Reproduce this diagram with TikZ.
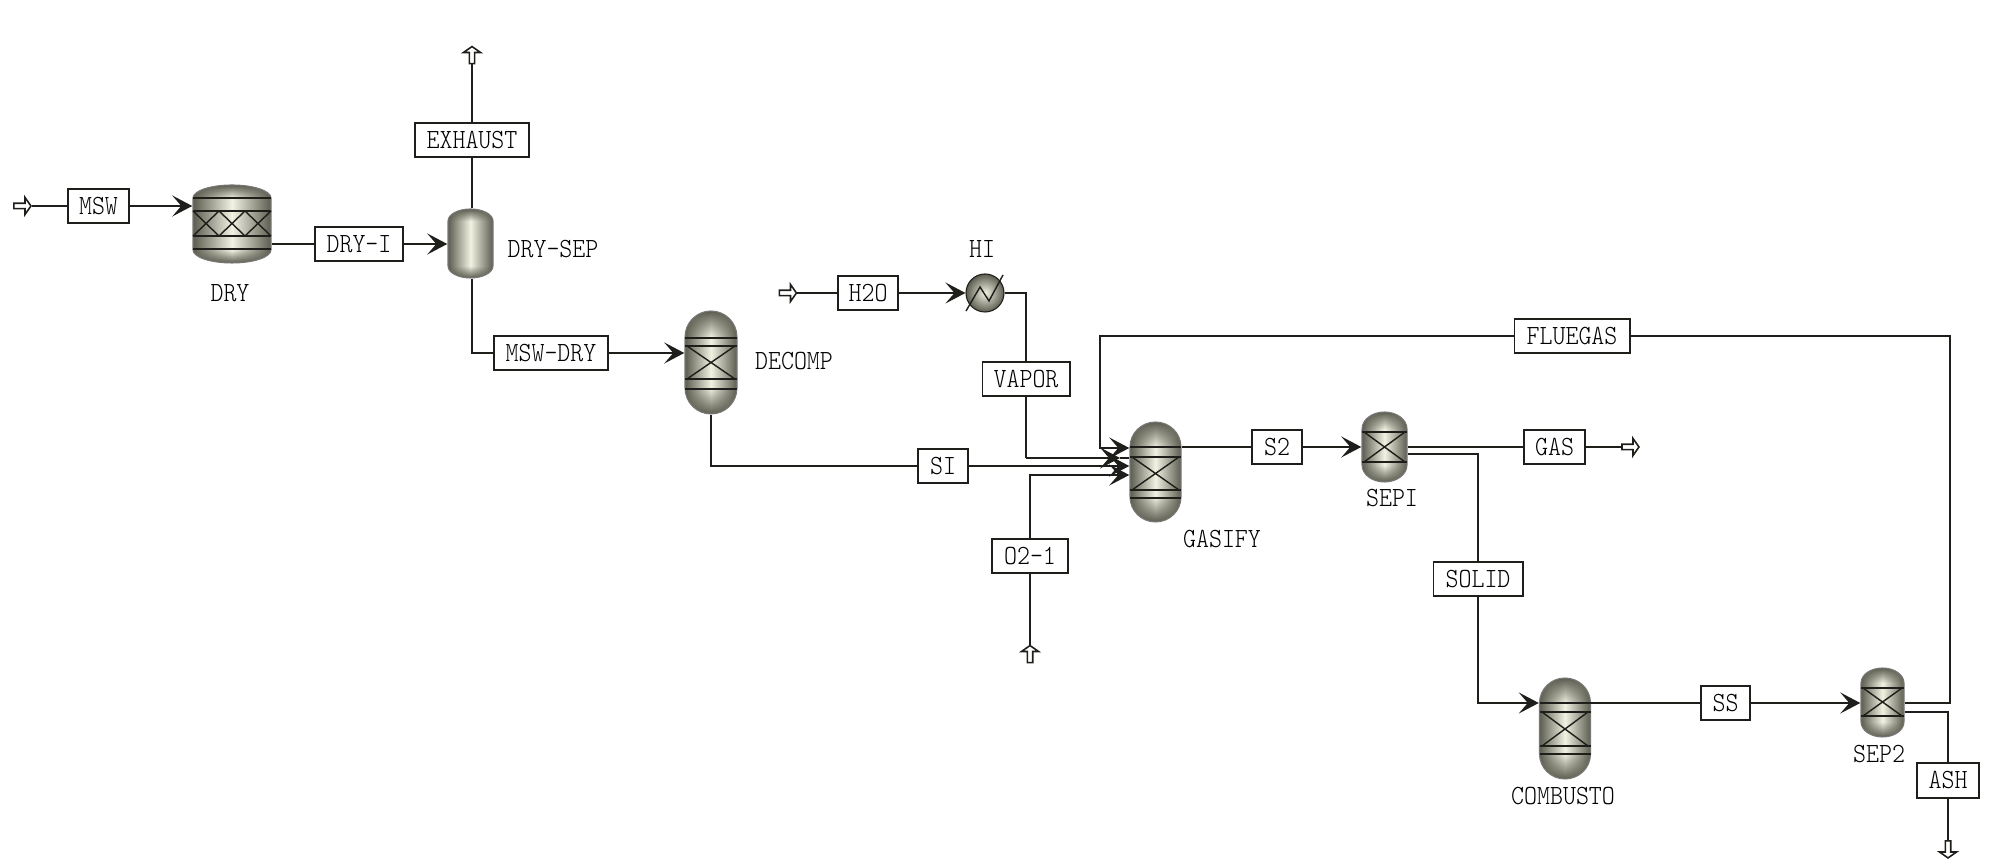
\documentclass[tikz,border=0pt]{standalone}
\usepackage{fontspec}
\usepackage{xcolor}
\usepackage{tikz}
\usetikzlibrary{arrows.meta,shapes.arrows,fadings}
\newfontfamily\tagfont[FakeStretch=0.89]{Latin Modern Mono Light}
\definecolor{vdark}{HTML}{5C5D50}
\definecolor{vlight}{HTML}{F1F2E2}
\definecolor{vline}{HTML}{1E1E1A}
\newcommand{\vessel}[6]{% name, x, y, half width, half height, cap
  \path[left color=vdark,right color=vdark,middle color=vlight]
    (#2-#4,#3-#5+#6) arc[x radius=#4*0.01cm,y radius=#6*0.01cm,start angle=180,end angle=0]
    -- (#2+#4,#3+#5-#6) arc[x radius=#4*0.01cm,y radius=#6*0.01cm,start angle=0,end angle=-180] -- cycle;
  \fill[vdark,path fading=south]
    (#2-#4,#3-#5+#6) arc[x radius=#4*0.01cm,y radius=#6*0.01cm,start angle=180,end angle=0] -- cycle;
  \fill[vdark,path fading=north]
    (#2+#4,#3+#5-#6) arc[x radius=#4*0.01cm,y radius=#6*0.01cm,start angle=0,end angle=-180] -- cycle;
  \draw[shell]
    (#2-#4,#3-#5+#6) arc[x radius=#4*0.01cm,y radius=#6*0.01cm,start angle=180,end angle=0]
    -- (#2+#4,#3+#5-#6) arc[x radius=#4*0.01cm,y radius=#6*0.01cm,start angle=0,end angle=-180] -- cycle;
  \node[inner sep=0pt,minimum width=#4*0.02cm,minimum height=#5*0.02cm] (#1) at (#2,#3) {};
}

\begin{document}
\begin{tikzpicture}[x=0.01cm,y=-0.01cm,
    shell/.style={draw=vline!60,line width=0.3pt},
    tray/.style={draw=vline,line width=0.4pt},
    flow/.style={draw=vline,line width=0.55pt},
    inflow/.style={flow,-{Stealth[length=0.2cm,width=0.21cm,inset=0.09cm]}},
    stream/.style={draw=vline,line width=0.55pt,fill=white,inner sep=0pt,minimum height=0.345cm,
      text=black,font=\tagfont\fontsize{7.9}{9}\selectfont},
    unit/.style={inner sep=0pt,text=black,font=\tagfont\fontsize{7.9}{9}\selectfont},
    port/.style={single arrow,draw=vline,line width=0.45pt,fill=white,inner sep=0pt,
      minimum width=0.17cm,minimum height=0.17cm,single arrow head extend=0.017cm,
      single arrow tip angle=110}]
  \useasboundingbox (0,0) rectangle (2000,868);

  % vessels
  \vessel{dry}{232}{224}{39}{39}{13}
  \vessel{drysep}{470.5}{243.5}{22.5}{34.5}{12}
  \vessel{decomp}{711}{362.5}{26}{51.5}{26}
  \vessel{gasify}{1155.5}{472}{25.5}{50}{25}
  \vessel{sepa}{1384.5}{447}{22.5}{35}{17}
  \vessel{combusto}{1565}{728.5}{25.5}{50.5}{25}
  \vessel{sepb}{1882.5}{702.5}{21.5}{34.5}{15}

  % trays and packing
  \foreach \y in {198,211,236,249} \draw[tray] (193,\y) -- (271,\y);
  \foreach \x in {206,232,258} \draw[tray] (\x-13,211) -- (\x+13,236) (\x-13,236) -- (\x+13,211);
  \foreach \y in {338,346,379,389} \draw[tray] (685,\y) -- (737,\y);
  \draw[tray] (687,346) -- (735,379) (687,379) -- (735,346);
  \foreach \y in {447,457,490,498} \draw[tray] (1130,\y) -- (1181,\y);
  \draw[tray] (1132,457) -- (1179,490) (1132,490) -- (1179,457);
  \foreach \y in {432,462} \draw[tray] (1362,\y) -- (1407,\y);
  \draw[tray] (1364,432) -- (1405,462) (1364,462) -- (1405,432);
  \foreach \y in {703,712,746,754} \draw[tray] (1539.5,\y) -- (1590.5,\y);
  \draw[tray] (1542,712) -- (1588,746) (1542,746) -- (1588,712);
  \foreach \y in {688,716} \draw[tray] (1861,\y) -- (1904,\y);
  \draw[tray] (1863,688) -- (1902,716) (1863,716) -- (1902,688);

  % heater
  \node[circle,draw=vline,line width=0.3pt,inner sep=0pt,minimum size=0.38cm,inner color=vlight,outer color=vdark] (heater) at (985,293) {};
  \draw[tray] (966,311) -- (980,287) -- (989,301) -- (1003,275);

  % stream boxes
  \node[stream,minimum width=0.61cm] (msw) at (98.5,206) {MSW};
  \node[stream,minimum width=0.88cm] (dryone) at (359,244) {DRY-I};
  \node[stream,minimum width=1.14cm] (exhaust) at (472,140) {EXHAUST};
  \node[stream,minimum width=1.14cm] (mswdry) at (551,353) {MSW-DRY};
  \node[stream,minimum width=0.60cm] (water) at (868,293) {H2O};
  \node[stream,minimum width=0.87cm] (vapor) at (1026,379) {VAPOR};
  \node[stream,minimum width=0.50cm] (sone) at (943,466) {SI};
  \node[stream,minimum width=0.76cm] (oxygen) at (1030,556) {O2-1};
  \node[stream,minimum width=1.15cm] (fluegas) at (1572,336) {FLUEGAS};
  \node[stream,minimum width=0.50cm] (stwo) at (1277,447) {S2};
  \node[stream,minimum width=0.61cm] (gas) at (1554.5,447) {GAS};
  \node[stream,minimum width=0.89cm] (solid) at (1478,579) {SOLID};
  \node[stream,minimum width=0.49cm] (ss) at (1725.5,703) {SS};
  \node[stream,minimum width=0.62cm] (ash) at (1948,780.5) {ASH};

  % unit names
  \node[unit] (ldry) at (230,293) {DRY};
  \node[unit] (ldrysep) at (553,249) {DRY-SEP};
  \node[unit] (ldecomp) at (794,361) {DECOMP};
  \node[unit] (lheater) at (982,249) {HI};
  \node[unit] (lgasify) at (1222,539) {GASIFY};
  \node[unit] (lsepa) at (1392,498) {SEPI};
  \node[unit] (lcombusto) at (1563,796) {COMBUSTO};
  \node[unit] (lsepb) at (1879,754) {SEP2};

  % feed and product arrows
  \node[port] (pmsw) at (21.5,206) {};
  \node[port] (pwater) at (787,293) {};
  \node[port,shape border rotate=90] (poxygen) at (1030,655) {};
  \node[port,shape border rotate=90] (pexhaust) at (472,56) {};
  \node[port] (pgas) at (1629.5,447) {};
  \node[port,shape border rotate=270] (pash) at (1948,848.5) {};

  % routing points
  \coordinate (fluer) at (1950,336);
  \coordinate (fluel) at (1100,336);
  \coordinate (vapbend) at (1026,458);
  \coordinate (oxbend) at (1030,475);
  \coordinate (solbend) at (1478,454);
  \coordinate (ashbend) at (1948,712);

  % connectors
  \draw[flow] (pmsw) -- (msw);
  \draw[inflow] (msw) -- (msw -| dry.west);
  \draw[flow] (dry.east |- dryone) -- (dryone);
  \draw[inflow] (dryone) -- (dryone -| drysep.west);
  \draw[flow] (exhaust |- drysep.north) -- (exhaust);
  \draw[flow] (exhaust) -- (pexhaust);
  \draw[flow] (exhaust |- drysep.south) |- (mswdry);
  \draw[inflow] (mswdry) -- (mswdry -| decomp.west);
  \draw[flow] (decomp.south) |- (sone);
  \draw[inflow] (sone) -- (sone -| gasify.west);
  \draw[flow] (pwater) -- (water);
  \draw[inflow] (water) -- (heater);
  \draw[flow] (heater) -| (vapor);
  \draw[flow] (vapor) -- (vapbend);
  \draw[inflow] (vapbend) -- (1120,458);
  \draw[flow] (1120,458) -- (vapbend -| gasify.west);
  \draw[flow] (poxygen) -- (oxygen);
  \draw[inflow] (oxygen) -- (oxbend) -- (oxbend -| gasify.west);
  \draw[flow] (gasify.east |- stwo) -- (stwo);
  \draw[inflow] (stwo) -- (stwo -| sepa.west);
  \draw[flow] (sepa.east |- gas) -- (gas);
  \draw[flow] (gas) -- (pgas);
  \draw[flow] (sepa.east |- solbend) -- (solbend) -- (solid);
  \draw[inflow] (solid) |- (combusto.west |- ss);
  \draw[flow] (combusto.east |- ss) -- (ss);
  \draw[inflow] (ss) -- (ss -| sepb.west);
  \draw[flow] (sepb.east |- ss) -| (fluer) -- (fluegas);
  \draw[inflow] (fluegas) -- (fluel) |- (gasify.west |- 0,448);
  \draw[flow] (sepb.east |- ashbend) -- (ashbend) -- (ash);
  \draw[flow] (ash) -- (pash);
\end{tikzpicture}
\end{document}
